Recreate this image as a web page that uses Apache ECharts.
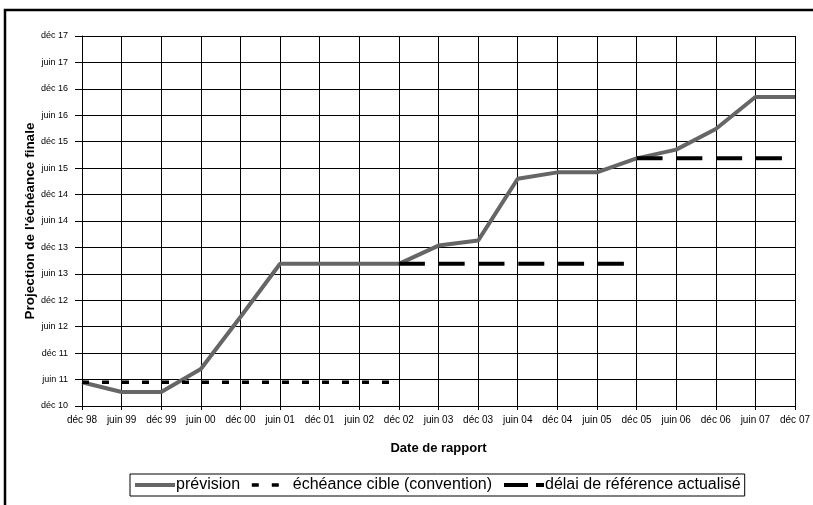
<!DOCTYPE html>
<html><head><meta charset="utf-8">
<script src="https://cdn.jsdelivr.net/npm/echarts@6/dist/echarts.min.js"></script>
<style>html,body{margin:0;padding:0;background:#fff}#c{width:813px;height:505px}</style>
</head><body><div id="c"></div>
<script>
const categories = ['déc 98','juin 99','déc 99','juin 00','déc 00','juin 01','déc 01','juin 02','déc 02','juin 03','déc 03','juin 04','déc 04','juin 05','déc 05','juin 06','déc 06','juin 07','déc 07'];
const yTickLabels = ['déc 10','juin 11','déc 11','juin 12','déc 12','juin 13','déc 13','juin 14','déc 14','juin 15','déc 15','juin 16','déc 16','juin 17','déc 17'];
const prevision = [0.9,0.53,0.53,1.4,3.37,5.38,5.38,5.38,5.38,6.07,6.26,8.6,8.84,8.84,9.37,9.7,10.48,11.69,11.69];
const echeanceCible = [0.9,0.9,0.9,0.9,0.9,0.9,0.9,0.9,0.9,null,null,null,null,null,null,null,null,null,null];
const delaiRef1 = [null,null,null,null,null,null,null,null,5.38,5.38,5.38,5.38,5.38,5.38,5.38,null,null,null,null];
const delaiRef2 = [null,null,null,null,null,null,null,null,null,null,null,null,null,null,9.37,9.37,9.37,9.37,9.37];

const chart = echarts.init(document.getElementById('c'), null, {renderer:'canvas'});
const F = 'Liberation Sans, Arial, sans-serif';
const nameP = 'prévision', nameE = 'échéance cible (convention)', nameD = 'délai de référence actualisé';
const dotDash = [7,13], longDash = [26,13.8];
chart.setOption({
  animation:false,
  textStyle:{fontFamily:F,color:'#000'},
  graphic:[{type:'rect',shape:{x:5,y:10,width:860,height:560},style:{fill:'none',stroke:'#000',lineWidth:2.5},z:100}],
  grid:{left:82,right:15,top:36,bottom:99},
  legend:{
    left:130,top:474,orient:'horizontal',
    data:[
      {name:nameP,itemStyle:{opacity:0},lineStyle:{color:'#666',width:4,type:'solid'}},
      {name:nameE,itemStyle:{opacity:0},lineStyle:{color:'#000',width:3.5,type:dotDash}},
      {name:nameD,itemStyle:{opacity:0},lineStyle:{color:'#000',width:4,type:[24,8]}}
    ],
    borderColor:'#000',borderWidth:1,padding:[3,4,3,3],
    itemWidth:40,itemHeight:10,itemGap:10,
    textStyle:{fontFamily:F,fontSize:16,color:'#000',padding:[0,0,0,-4]}
  },
  xAxis:{
    type:'category',data:categories,boundaryGap:false,
    name:'Date de rapport',nameLocation:'middle',nameGap:36,
    nameTextStyle:{fontFamily:F,fontSize:13,fontWeight:'bold',color:'#000'},
    axisLine:{lineStyle:{color:'#000',width:1}},
    axisTick:{show:true,interval:0,length:4,lineStyle:{color:'#000'}},
    axisLabel:{interval:0,fontSize:10,color:'#000',margin:9,fontFamily:F},
    splitLine:{show:true,interval:0,lineStyle:{color:'#000',width:1}}
  },
  yAxis:{
    type:'value',min:0,max:14,interval:1,
    name:"Projection de l'échéance finale",nameLocation:'middle',nameGap:45,nameMoveOverlap:false,
    nameTextStyle:{fontFamily:F,fontSize:13.5,fontWeight:'bold',color:'#000'},
    axisLine:{show:true,lineStyle:{color:'#000',width:1}},
    axisTick:{show:true,length:7,lineStyle:{color:'#000'}},
    axisLabel:{fontSize:9,color:'#000',margin:14,fontFamily:F,formatter:function(v){return yTickLabels[Math.round(v)]||'';}},
    splitLine:{show:true,lineStyle:{color:'#000',width:1}}
  },
  series:[
    {name:nameP,type:'line',data:prevision,symbol:'none',color:'#666',lineStyle:{color:'#666',width:4},z:2},
    {name:nameE,type:'line',data:echeanceCible,symbol:'none',color:'#000',lineStyle:{color:'#000',width:3.5,type:dotDash},z:3},
    {name:nameD,type:'line',data:delaiRef1,symbol:'none',color:'#000',lineStyle:{color:'#000',width:4,type:longDash},z:3},
    {name:nameD,type:'line',data:delaiRef2,symbol:'none',color:'#000',lineStyle:{color:'#000',width:4,type:longDash},z:3}
  ]
});
</script></body></html>
